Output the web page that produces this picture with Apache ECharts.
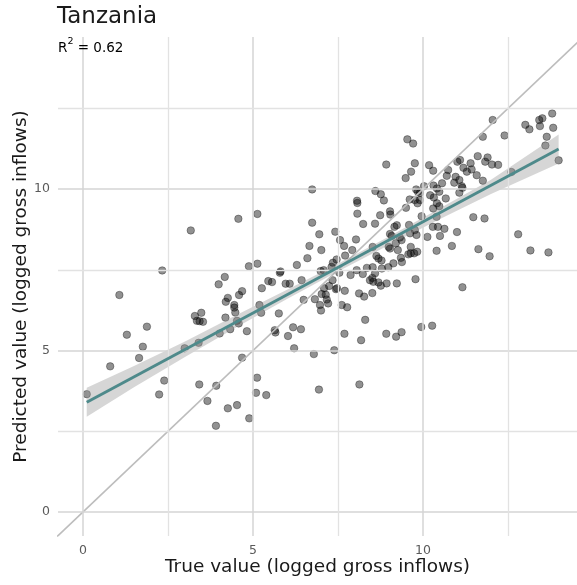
<!DOCTYPE html>
<html>
<head>
<meta charset="utf-8">
<script src="https://cdn.jsdelivr.net/npm/echarts@6/dist/echarts.min.js"></script>
<style>
html,body{margin:0;padding:0;background:#fff;}
#chart{width:577px;height:585px;}
</style>
</head>
<body>
<div id="chart"></div>
<script>
// ---- data ----
const titleText = 'Tanzania';
const r2Text = '0.62';
const xAxisName = 'True value (logged gross inflows)';
const yAxisName = 'Predicted value (logged gross inflows)';
const xTicks = [0, 5, 10];
const yTicks = [0, 5, 10];
const majorGrid = [0, 5, 10];
const minorGrid = [2.5, 7.5, 12.5];

// true value (x) and predicted value (y) per observation
const trueValue = [
1.07,2.33,3.17,4.57,5.13,6.29,5.13,4.88,5.79,5.81,4.17,3.99,5.45,5.56,5.96,6.08,5.26,4.68,4.59,4.26,
4.20,4.45,4.45,4.48,5.19,5.24,5.76,3.29,3.35,3.48,3.43,3.53,4.19,4.53,4.58,4.33,4.02,4.82,5.64,5.66,
6.18,6.03,6.21,1.88,1.29,1.76,1.65,2.99,3.40,0.80,0.11,2.39,2.24,3.42,3.92,4.68,5.12,5.09,5.39,3.66,
4.26,4.53,4.89,3.91,
12.05,13.80,13.51,13.42,13.01,13.13,13.44,13.83,13.64,13.60,13.99,12.40,11.76,9.54,9.71,8.92,9.76,9.65,9.49,10.18,
10.30,11.01,11.09,11.40,11.19,11.29,11.43,11.61,11.90,11.83,12.03,12.21,12.60,11.58,11.76,10.74,10.70,10.96,10.92,11.07,
11.14,11.16,10.56,10.31,10.03,6.74,10.41,
6.74,6.95,7.42,7.56,6.66,7.01,6.60,7.71,7.46,7.35,8.60,8.76,8.85,8.06,8.07,8.07,9.03,9.04,8.74,8.24,
8.59,7.68,8.03,7.92,9.80,9.85,9.91,9.61,9.76,9.84,9.91,10.21,10.32,10.48,10.67,10.41,10.48,10.30,9.50,9.96,
10.40,11.07,8.52,9.03,9.16,9.23,9.08,9.32,9.37,9.59,9.76,9.81,9.62,10.13,10.29,10.44,10.63,10.50,10.40,10.85,
11.00,11.48,11.81,11.63,11.96,12.80,13.16,13.69,8.99,9.03,9.26,9.64,9.64,9.57,9.83,9.74,9.20,9.35,9.38,9.13,
8.63,8.69,8.78,
6.99,7.08,7.54,7.34,6.43,7.09,7.24,7.44,7.47,7.70,6.82,6.49,7.02,7.14,7.17,7.21,6.97,7.00,7.61,7.77,
8.12,8.27,8.51,7.87,8.05,8.23,8.35,8.44,8.51,8.54,8.69,8.76,8.52,8.59,8.79,8.98,8.93,9.23,9.78,11.16,
7.31,
8.30,6.41,7.69,8.18,8.92,9.21,9.37,9.95,10.27,6.79,7.39,6.94,8.13
];
const predicted = [
6.72,7.48,8.72,9.08,9.23,7.65,7.69,7.61,7.41,7.45,7.28,7.05,7.15,7.12,7.07,7.07,6.93,6.84,6.72,6.63,
6.51,6.41,6.33,6.18,6.41,6.17,6.15,6.07,5.92,6.17,5.91,5.89,6.02,5.92,5.84,5.66,5.53,5.60,5.63,5.56,
5.72,5.45,5.07,5.74,5.49,5.12,4.77,5.07,5.24,4.51,3.65,4.07,3.64,3.95,3.91,4.78,4.16,3.69,3.62,3.44,
3.21,3.31,2.90,2.67,
12.14,12.34,12.19,12.14,11.99,11.85,11.95,11.90,11.62,11.35,10.89,11.66,11.62,11.54,11.41,10.76,10.80,10.54,10.34,10.74,
10.57,10.85,10.90,10.80,10.66,10.54,10.61,11.02,10.98,10.85,10.76,10.75,10.53,10.43,10.26,10.59,10.41,10.38,10.20,10.28,
10.09,10.04,10.18,10.11,10.09,9.99,10.02,
8.96,8.60,8.68,8.42,8.24,8.11,7.86,7.94,7.82,7.72,9.94,9.84,9.65,9.64,9.57,9.24,9.31,9.21,9.19,8.92,
8.93,8.24,8.44,8.11,9.99,9.92,9.88,9.68,9.66,9.56,9.66,9.81,9.74,9.92,9.71,9.56,9.47,9.40,9.42,9.16,
9.14,9.89,8.21,8.61,8.83,8.88,8.55,8.50,8.42,8.89,8.73,8.58,8.63,8.52,8.83,8.83,8.77,8.55,8.09,8.24,
8.67,9.13,9.09,8.14,7.92,8.60,8.10,8.04,8.21,8.16,8.11,8.21,8.01,7.98,8.06,8.01,8.32,7.87,7.74,7.70,
7.93,7.85,7.79,
7.46,7.49,7.41,7.18,7.18,6.93,7.00,6.90,6.93,6.85,6.59,6.57,6.75,6.73,6.58,6.46,6.41,6.24,6.41,6.34,
6.77,6.67,6.78,7.34,7.49,7.37,7.56,7.18,7.25,7.13,7.11,7.01,7.58,7.39,7.54,7.58,7.08,7.08,7.21,6.96,
7.59,
5.95,5.66,5.52,5.32,5.52,5.43,5.57,5.73,5.77,4.89,5.01,3.79,3.95
];

// fitted regression line and its confidence band
const fitX = [0.11, 13.99];
const fitY = [3.40, 11.24];
const bandX = [0.11, 1.5, 3, 4.5, 6, 7.5, 9, 10.5, 12, 13.99];
const bandLow = [2.95, 3.86, 4.80, 5.71, 6.60, 7.45, 8.27, 9.07, 9.85, 10.79];
const bandHigh = [3.85, 4.52, 5.28, 6.09, 6.88, 7.69, 8.53, 9.41, 10.29, 11.69];

// identity (y = x) reference line ends
const identityX = [-2, 16];
const identityY = [-2, 16];

// ---- chart ----
const FONT = 'DejaVu Sans';
const chart = echarts.init(document.getElementById('chart'), null, {renderer: 'canvas'});

const points = trueValue.map((x, i) => [x, predicted[i]]);
const bandData = bandX.map((x, i) => [x, bandLow[i], bandHigh[i]]);

const gridMarks = [];
majorGrid.forEach(v => {
  gridMarks.push({xAxis: v, lineStyle: {color: '#d4d4d4', width: 1.5, type: 'solid'}});
  gridMarks.push({yAxis: v, lineStyle: {color: '#d4d4d4', width: 1.5, type: 'solid'}});
});
minorGrid.forEach(v => {
  gridMarks.push({xAxis: v, lineStyle: {color: '#e2e2e2', width: 1.3, type: 'solid'}});
  gridMarks.push({yAxis: v, lineStyle: {color: '#e2e2e2', width: 1.3, type: 'solid'}});
});

const option = {
  backgroundColor: '#ffffff',
  animation: false,
  title: {
    text: titleText,
    left: 57,
    top: 6,
    padding: 0,
    textStyle: {fontFamily: FONT, fontSize: 23, fontWeight: 'normal', color: '#1a1a1a'}
  },
  graphic: [{
    type: 'text',
    left: 58,
    top: 37,
    style: {
      text: '{a|R}{s|2}{a| = ' + r2Text + '}',
      rich: {
        a: {fontFamily: FONT, fontSize: 13.5, color: '#1a1a1a', lineHeight: 18, verticalAlign: 'bottom'},
        s: {fontFamily: FONT, fontSize: 9.5, color: '#1a1a1a', lineHeight: 18, verticalAlign: 'top'}
      }
    },
    z: 100
  }],
  grid: {left: 58, right: 0, top: 37, bottom: 49, containLabel: false, outerBoundsMode: 'none'},
  xAxis: {
    type: 'value',
    min: -0.735,
    max: 14.53,
    axisLine: {show: false},
    axisTick: {show: false},
    splitLine: {show: false},
    axisLabel: {customValues: xTicks, color: '#5a5a5a', fontFamily: FONT, fontSize: 12.5, margin: 8},
    name: xAxisName,
    nameLocation: 'middle',
    nameGap: 22,
    nameMoveOverlap: false,
    nameTextStyle: {fontFamily: FONT, fontSize: 18.5, color: '#1a1a1a'}
  },
  yAxis: {
    type: 'value',
    min: -0.743,
    max: 14.71,
    axisLine: {show: false},
    axisTick: {show: false},
    splitLine: {show: false},
    axisLabel: {customValues: yTicks, color: '#5a5a5a', fontFamily: FONT, fontSize: 12.5, margin: 8},
    name: yAxisName,
    nameLocation: 'middle',
    nameGap: 27,
    nameMoveOverlap: false,
    nameTextStyle: {fontFamily: FONT, fontSize: 18.5, color: '#1a1a1a'}
  },
  series: [
    {
      name: 'grid',
      type: 'scatter',
      data: [[0, 0]],
      symbolSize: 0,
      silent: true,
      z: 0,
      markLine: {
        silent: true,
        symbol: 'none',
        label: {show: false},
        data: gridMarks
      }
    },
    {
      name: 'points',
      type: 'scatter',
      data: points,
      symbolSize: 7.5,
      z: 2,
      itemStyle: {color: 'rgba(0,0,0,0.54)', borderColor: 'rgba(0,0,0,0.4)', borderWidth: 1}
    },
    {
      name: 'identity',
      type: 'line',
      data: identityX.map((x, i) => [x, identityY[i]]),
      showSymbol: false,
      clip: true,
      z: 3,
      lineStyle: {color: '#bdbdbd', width: 1.6}
    },
    {
      name: 'band',
      type: 'custom',
      data: bandData,
      z: 4,
      silent: true,
      renderItem: function (params, api) {
        if (params.dataIndex !== 0) return null;
        const pts = [];
        for (let i = 0; i < bandX.length; i++) pts.push(api.coord([bandX[i], bandHigh[i]]));
        for (let i = bandX.length - 1; i >= 0; i--) pts.push(api.coord([bandX[i], bandLow[i]]));
        return {
          type: 'polygon',
          shape: {points: pts},
          style: {fill: 'rgba(153,153,153,0.4)'}
        };
      }
    },
    {
      name: 'fit',
      type: 'line',
      data: fitX.map((x, i) => [x, fitY[i]]),
      showSymbol: false,
      z: 5,
      lineStyle: {color: '#4e8a8b', width: 3}
    }
  ]
};
chart.setOption(option);
</script>
</body>
</html>
